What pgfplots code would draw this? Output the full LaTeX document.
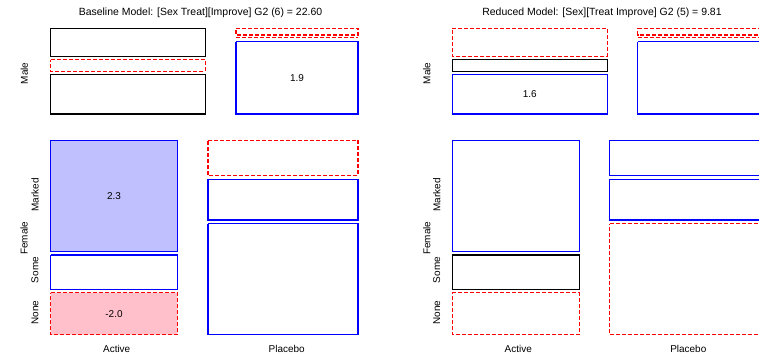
\documentclass[border=0pt]{standalone}
\usepackage{fontspec}
\setmainfont{Liberation Sans}
\usepackage{pgfplots}
\pgfplotsset{compat=1.18}
\definecolor{tblue}{HTML}{0000FF}
\definecolor{tred}{HTML}{FF0000}
\definecolor{fblue}{HTML}{C0C0FF}
\definecolor{fpink}{HTML}{FFC0CB}
\pgfplotsset{
  tilepos/.style={draw=tblue, solid, line width=1.3bp},
  tileneg/.style={draw=tred, line width=1.3bp, dash pattern=on 4bp off 2bp},
  tileneu/.style={draw=black, solid, line width=1.1bp},
}
\tikzset{lab/.style={font=\fontsize{10}{12}\selectfont, inner sep=0pt}}
% tile: style, x0, y0, x1, y1 (pixel coordinates, y downward)
\newcommand{\tile}[5]{\addplot[#1, mark=none, forget plot] coordinates {(#2,#3) (#4,#3) (#4,#5) (#2,#5) (#2,#3)};}
\pgfplotsset{panel/.style={
  scale only axis, height=357bp, ymin=0, ymax=357, y dir=reverse,
  hide axis, clip=true}}
\begin{document}
\begin{tikzpicture}
\path[use as bounding box] (0,0) rectangle (759bp,357bp);
% ---------------- Baseline model ----------------
\begin{axis}[panel, at={(0bp,0bp)}, anchor=south west, width=380bp, xmin=0, xmax=380]
% Male, Active
\tile{tileneu}{50.7}{28.3}{205.3}{56.3}
\tile{tileneg}{50.7}{59.7}{205.3}{71.3}
\tile{tileneu}{50.7}{74.3}{205.3}{114}
% Male, Placebo
\tile{tileneg}{236}{28.3}{358}{35}
\addplot[tileneg, mark=none, forget plot] coordinates {(236,37.8) (358,37.8)};
\tile{tilepos}{236}{41.7}{358}{114}
% Female, Active
\tile{tilepos, fill=fblue}{50.7}{140.3}{177.3}{251.3}
\tile{tilepos}{50.7}{255}{177.3}{289.3}
\tile{tileneg, fill=fpink}{50.7}{292.7}{177.3}{334.5}
% Female, Placebo
\tile{tileneg}{208}{140.3}{358}{175.7}
\tile{tilepos}{208}{179.3}{358}{220}
\tile{tilepos}{208}{223.7}{358}{334.5}
% cell labels
\node[lab] at (axis cs:297,77.8) {1.9};
\node[lab] at (axis cs:114,196) {2.3};
\node[lab] at (axis cs:114,313.6) {-2.0};
% labels
\node[lab, font=\fontsize{10.5}{12}\selectfont] at (axis cs:200.5,12.5) {Baseline Model: [Sex Treat][Improve] G2 (6) = 22.60};
\node[lab, rotate=90] at (axis cs:24.3,73.3) {Male};
\node[lab, rotate=90] at (axis cs:24,238.3) {Female};
\node[lab, rotate=90] at (axis cs:35,195) {Marked};
\node[lab, rotate=90] at (axis cs:35,270) {Some};
\node[lab, rotate=90] at (axis cs:35,312.7) {None};
\node[lab] at (axis cs:116.7,349) {Active};
\node[lab] at (axis cs:286.7,349) {Placebo};
\end{axis}
% ---------------- Reduced model ----------------
\begin{axis}[panel, at={(380bp,0bp)}, anchor=south west, width=379bp, xmin=380, xmax=759]
% Male, Active
\tile{tileneg}{452.3}{28.3}{607.3}{56.3}
\tile{tileneu}{452.3}{59.7}{607.3}{71.3}
\tile{tilepos}{452.3}{74.3}{607.3}{114}
% Male, Placebo
\tile{tileneg}{637.7}{28.3}{760.5}{35}
\addplot[tileneg, mark=none, forget plot] coordinates {(637.7,37.8) (760.5,37.8)};
\tile{tilepos}{637.7}{41.7}{760.5}{114}
% Female, Active
\tile{tilepos}{452.3}{140.3}{579.3}{251.3}
\tile{tileneu}{452.3}{255}{579.3}{289.3}
\tile{tileneg}{452.3}{292.7}{579.3}{334.5}
% Female, Placebo
\tile{tilepos}{609.7}{140.3}{760.5}{175.7}
\tile{tilepos}{609.7}{179.3}{760.5}{220}
\tile{tileneg}{609.7}{223.7}{760.5}{334.5}
% cell labels
\node[lab] at (axis cs:529.8,94.4) {1.6};
% labels
\node[lab, font=\fontsize{10.5}{12}\selectfont] at (axis cs:602,12.5) {Reduced Model: [Sex][Treat Improve] G2 (5) = 9.81};
\node[lab, rotate=90] at (axis cs:426.7,73.3) {Male};
\node[lab, rotate=90] at (axis cs:426.7,238.3) {Female};
\node[lab, rotate=90] at (axis cs:436.7,195) {Marked};
\node[lab, rotate=90] at (axis cs:436.7,270) {Some};
\node[lab, rotate=90] at (axis cs:436.7,312.7) {None};
\node[lab] at (axis cs:518.3,349) {Active};
\node[lab] at (axis cs:688.3,349) {Placebo};
\end{axis}
\end{tikzpicture}
\end{document}
